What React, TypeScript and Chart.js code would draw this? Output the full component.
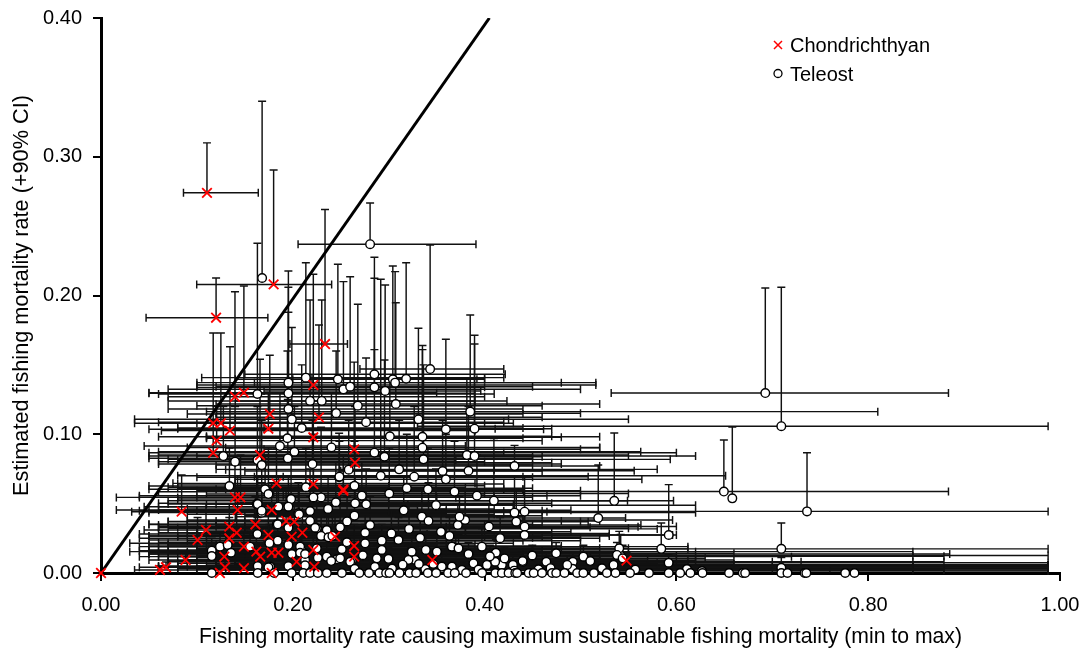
import React, { useEffect, useRef } from "react";
import { Chart, registerables } from "chart.js";

Chart.register(...registerables);

// Axis ticks
const xTicks = [0, 0.2, 0.4, 0.6, 0.8, 1.0];
const yTicks = [0, 0.1, 0.2, 0.3, 0.4];

// Reference line (F = Fmsm)
const diagonalX = [0, 0.405];
const diagonalY = [0, 0.4];

// Teleost rows: [x, y, xMin, xMax, yUpper90]
const teleostRows: number[][] = [
  [0.2806, 0.237, 0.2055, 0.391, 0.2667],
  [0.168, 0.2126, 0.168, 0.168, 0.34],
  [0.3432, 0.147, 0.27, 0.42, 0.2364],
  [0.6927, 0.1297, 0.532, 0.8837, 0.2054],
  [0.7094, 0.1058, 0.33, 0.9876, 0.206],
  [0.6495, 0.0587, 0.3, 0.8837, 0.0958],
  [0.6583, 0.0538, 0.6583, 0.6583, 0.1052],
  [0.7362, 0.0444, 0.36, 0.9876, 0.0867],
  [0.5352, 0.052, 0.3, 0.549, 0.1009],
  [0.5185, 0.0396, 0.22, 0.547, 0.0778],
  [0.592, 0.0274, 0.33, 0.6, 0.0637],
  [0.5842, 0.0174, 0.2, 0.612, 0.036],
  [0.7094, 0.0174, 0.45, 0.9876, 0.036],
  [0.7094, 0.0037, 0.4, 0.9876, 0.0112],
  [0.5419, 0.0124, 0.15, 0.8466, 0.0277],
  [0.1954, 0.1372, 0.1, 0.516, 0.2177],
  [0.2136, 0.1408, 0.105, 0.42, 0.2236],
  [0.247, 0.1396, 0.14, 0.392, 0.2225],
  [0.2528, 0.1324, 0.07, 0.5, 0.21],
  [0.2598, 0.1343, 0.12, 0.45, 0.2135],
  [0.2851, 0.1432, 0.15, 0.4215, 0.2275],
  [0.2851, 0.1338, 0.1, 0.4, 0.2124],
  [0.2963, 0.1312, 0.17, 0.396, 0.2076],
  [0.3043, 0.1396, 0.2, 0.4, 0.2213],
  [0.3067, 0.1372, 0.16, 0.48, 0.2172],
  [0.3182, 0.14, 0.22, 0.4, 0.2236],
  [0.1954, 0.1295, 0.05, 0.39, 0.206],
  [0.1631, 0.129, 0.06, 0.41, 0.2376],
  [0.218, 0.124, 0.07, 0.4233, 0.1968],
  [0.2302, 0.124, 0.14, 0.39, 0.1968],
  [0.1954, 0.1182, 0.07, 0.44, 0.188],
  [0.199, 0.1108, 0.035, 0.425, 0.177],
  [0.2678, 0.1206, 0.1, 0.46, 0.1937],
  [0.3074, 0.1218, 0.12, 0.52, 0.1948],
  [0.331, 0.1108, 0.14, 0.55, 0.1764],
  [0.385, 0.1163, 0.11, 0.81, 0.186],
  [0.3596, 0.1036, 0.05, 0.4615, 0.1684],
  [0.3895, 0.104, 0.17, 0.411, 0.1713],
  [0.3352, 0.0982, 0.06, 0.52, 0.161],
  [0.3352, 0.0903, 0.13, 0.52, 0.164],
  [0.3363, 0.0819, 0.07, 0.5936, 0.15],
  [0.1944, 0.0971, 0.11, 0.44, 0.16],
  [0.2017, 0.0874, 0.06, 0.5628, 0.12],
  [0.1948, 0.0827, 0.05, 0.45, 0.125],
  [0.2851, 0.0867, 0.2, 0.6, 0.161],
  [0.2956, 0.0838, 0.13, 0.46, 0.1535],
  [0.2917, 0.0701, 0.08, 0.6513, 0.2117],
  [0.3109, 0.0747, 0.12, 0.58, 0.11],
  [0.3266, 0.0694, 0.19, 0.508, 0.12],
  [0.3815, 0.085, 0.17, 0.55, 0.14],
  [0.3895, 0.0843, 0.1, 0.62, 0.165],
  [0.3832, 0.0737, 0.25, 0.556, 0.12],
  [0.3596, 0.0675, 0.14, 0.564, 0.1],
  [0.3686, 0.0586, 0.06, 0.4406, 0.095],
  [0.392, 0.0557, 0.19, 0.465, 0.085],
  [0.4097, 0.0521, 0.07, 0.597, 0.097],
  [0.3409, 0.0603, 0.12, 0.44, 0.09],
  [0.2483, 0.069, 0.1, 0.45, 0.1007],
  [0.2643, 0.0629, 0.14, 0.4, 0.095],
  [0.2136, 0.0618, 0.07, 0.38, 0.09],
  [0.272, 0.0557, 0.04, 0.5, 0.08],
  [0.2765, 0.0495, 0.12, 0.43, 0.075],
  [0.265, 0.0502, 0.06, 0.47, 0.07],
  [0.2449, 0.051, 0.14, 0.35, 0.08],
  [0.2295, 0.0545, 0.1, 0.37, 0.105],
  [0.1982, 0.0533, 0.08, 0.3, 0.09],
  [0.1954, 0.0478, 0.045, 0.33, 0.07],
  [0.2058, 0.043, 0.16, 0.36, 0.065],
  [0.218, 0.0447, 0.05, 0.42, 0.075],
  [0.2643, 0.0413, 0.15, 0.46, 0.065],
  [0.1676, 0.0435, 0.05, 0.38, 0.075],
  [0.1624, 0.0497, 0.11, 0.3, 0.08],
  [0.1833, 0.0351, 0.09, 0.45, 0.06],
  [0.225, 0.0322, 0.07, 0.55, 0.055],
  [0.2354, 0.031, 0.13, 0.4, 0.05],
  [0.2493, 0.0329, 0.15, 0.51, 0.06],
  [0.2754, 0.029, 0.1, 0.38, 0.045],
  [0.2806, 0.0346, 0.06, 0.563, 0.055],
  [0.3346, 0.0406, 0.14, 0.44, 0.06],
  [0.3415, 0.0375, 0.19, 0.52, 0.065],
  [0.3721, 0.0346, 0.12, 0.46, 0.05],
  [0.3797, 0.0382, 0.09, 0.596, 0.06],
  [0.3738, 0.0406, 0.22, 0.43, 0.055],
  [0.3634, 0.0267, 0.05, 0.53, 0.04],
  [0.3328, 0.0254, 0.13, 0.45, 0.04],
  [0.2928, 0.0233, 0.11, 0.5, 0.035],
  [0.3102, 0.0238, 0.17, 0.47, 0.04],
  [0.3659, 0.019, 0.07, 0.612, 0.03],
  [0.3728, 0.0178, 0.15, 0.52, 0.028],
  [0.3972, 0.019, 0.2, 0.47, 0.032],
  [0.3241, 0.0154, 0.09, 0.62, 0.025],
  [0.3387, 0.0166, 0.1, 0.54, 0.03],
  [0.3502, 0.0154, 0.19, 0.8466, 0.028],
  [0.3832, 0.0137, 0.12, 0.885, 0.022],
  [0.4118, 0.0146, 0.21, 0.55, 0.024],
  [0.4024, 0.0058, 0.16, 0.9876, 0.015],
  [0.418, 0.0058, 0.11, 0.7, 0.012],
  [0.3884, 0.007, 0.08, 0.58, 0.013],
  [0.3763, 0.0022, 0.13, 0.879, 0.008],
  [0.3659, 0.0046, 0.06, 0.9876, 0.01],
  [0.3554, 0.0046, 0.14, 0.8466, 0.012],
  [0.3276, 0.0094, 0.09, 0.5, 0.018],
  [0.3206, 0.0094, 0.12, 0.66, 0.02],
  [0.2928, 0.0166, 0.05, 0.46, 0.03],
  [0.2876, 0.0106, 0.13, 0.52, 0.02],
  [0.2754, 0.0214, 0.07, 0.43, 0.035],
  [0.2511, 0.0171, 0.11, 0.5, 0.03],
  [0.2354, 0.0118, 0.06, 0.38, 0.025],
  [0.2459, 0.0099, 0.14, 0.55, 0.02],
  [0.2615, 0.0086, 0.08, 0.44, 0.018],
  [0.225, 0.0178, 0.1, 0.48, 0.03],
  [0.2094, 0.0161, 0.06, 0.42, 0.03],
  [0.1954, 0.0209, 0.12, 0.36, 0.035],
  [0.199, 0.0137, 0.05, 0.4, 0.025],
  [0.2128, 0.0094, 0.09, 0.52, 0.02],
  [0.1763, 0.0046, 0.07, 0.34, 0.012],
  [0.1954, 0.005, 0.1, 0.45, 0.012],
  [0.2128, 0.0055, 0.12, 0.38, 0.01],
  [0.1276, 0.0843, 0.05, 0.38, 0.12],
  [0.1398, 0.0802, 0.06, 0.4, 0.12],
  [0.1631, 0.0814, 0.08, 0.37, 0.12],
  [0.1676, 0.0778, 0.12, 0.45, 0.11],
  [0.1339, 0.0627, 0.05, 0.3, 0.09],
  [0.1711, 0.0603, 0.05, 0.42, 0.085],
  [0.1746, 0.0569, 0.11, 0.4, 0.09],
  [0.2486, 0.0694, 0.16, 0.44, 0.095],
  [0.1634, 0.0497, 0.07, 0.32, 0.07],
  [0.1676, 0.0449, 0.04, 0.46, 0.065],
  [0.185, 0.0478, 0.06, 0.35, 0.07],
  [0.2066, 0.0423, 0.09, 0.41, 0.06],
  [0.1843, 0.0351, 0.05, 0.43, 0.05],
  [0.1954, 0.0326, 0.08, 0.36, 0.05],
  [0.218, 0.0375, 0.12, 0.48, 0.055],
  [0.2233, 0.0326, 0.06, 0.4, 0.045],
  [0.1631, 0.0281, 0.04, 0.34, 0.04],
  [0.1843, 0.0233, 0.09, 0.44, 0.035],
  [0.1954, 0.0202, 0.07, 0.39, 0.03],
  [0.2076, 0.019, 0.11, 0.47, 0.028],
  [0.2295, 0.0267, 0.05, 0.36, 0.04],
  [0.2372, 0.0257, 0.13, 0.5, 0.04],
  [0.2413, 0.0267, 0.08, 0.42, 0.045],
  [0.1155, 0.0161, 0.04, 0.28, 0.025],
  [0.1241, 0.019, 0.06, 0.32, 0.03],
  [0.1321, 0.0202, 0.05, 0.35, 0.03],
  [0.1356, 0.0146, 0.07, 0.3, 0.022],
  [0.1554, 0.019, 0.04, 0.33, 0.03],
  [0.1155, 0.0122, 0.06, 0.26, 0.02],
  [0.2076, 0.0146, 0.08, 0.38, 0.022],
  [0.2128, 0.0137, 0.05, 0.44, 0.02],
  [0.2261, 0.011, 0.1, 0.35, 0.018],
  [0.24, 0.0086, 0.07, 0.4, 0.015],
  [0.2494, 0.0106, 0.12, 0.46, 0.018],
  [0.2598, 0.0081, 0.09, 0.37, 0.014],
  [0.1634, 0.005, 0.06, 0.3, 0.01],
  [0.1746, 0.0041, 0.08, 0.34, 0.01],
  [0.4312, 0.0771, 0.26, 0.52, 0.092],
  [0.4312, 0.0435, 0.17, 0.62, 0.07],
  [0.4417, 0.0442, 0.21, 0.465, 0.07],
  [0.433, 0.037, 0.15, 0.508, 0.06],
  [0.4417, 0.0334, 0.12, 0.56, 0.05],
  [0.4417, 0.0274, 0.18, 0.596, 0.045],
  [0.411, 0.0081, 0.15, 0.73, 0.015],
  [0.4295, 0.0058, 0.22, 0.9876, 0.012],
  [0.44, 0.0081, 0.14, 0.8466, 0.015],
  [0.4643, 0.0081, 0.19, 0.879, 0.014],
  [0.457, 0.0022, 0.25, 0.9876, 0.006],
  [0.492, 0.0081, 0.3, 0.7, 0.014],
  [0.5345, 0.0058, 0.26, 0.8466, 0.012],
  [0.5404, 0.0178, 0.33, 0.55, 0.03],
  [0.538, 0.013, 0.35, 0.6, 0.022],
  [0.5439, 0.0106, 0.25, 0.63, 0.02],
  [0.503, 0.0118, 0.2, 0.72, 0.02],
  [0.5102, 0.0086, 0.28, 0.612, 0.015],
  [0.5224, 0.0034, 0.3, 0.9876, 0.008],
  [0.4396, 0.0086, 0.18, 0.6, 0.015],
  [0.5919, 0.0074, 0.4, 0.9876, 0.013],
  [0.611, 0.0029, 0.45, 0.8466, 0.006],
  [0.6267, 0.0014, 0.5, 0.9876, 0.005],
  [0.4562, 0.0027, 0.26, 0.7, 0.008],
  [0.4309, 0.0017, 0.2, 0.55, 0.006],
  [0.4917, 0.003, 0.31, 0.76, 0.008],
  [0.2645, 0.003, 0.1, 0.62, 0.008],
  [0.2856, 0.0045, 0.12, 0.9876, 0.01],
  [0.3035, 0.0032, 0.08, 0.72, 0.009],
  [0.3146, 0.006, 0.14, 0.8466, 0.012],
  [0.3381, 0.0028, 0.1, 0.9876, 0.007],
  [0.3465, 0.0065, 0.16, 0.612, 0.012],
  [0.3937, 0.0025, 0.13, 0.8466, 0.007],
  [0.4055, 0.012, 0.22, 0.879, 0.02],
  [0.4208, 0.0105, 0.2, 0.62, 0.018],
  [0.4497, 0.0126, 0.24, 0.9876, 0.02],
  [0.4746, 0.0142, 0.3, 0.66, 0.022],
  [0.4861, 0.0058, 0.33, 0.9876, 0.012],
  [0.3028, 0.0285, 0.09, 0.53, 0.045],
  [0.3212, 0.0318, 0.15, 0.58, 0.05],
  [0.3545, 0.0297, 0.11, 0.49, 0.046],
  [0.4045, 0.0335, 0.2, 0.6, 0.05],
  [0.4162, 0.0251, 0.18, 0.52, 0.04],
  [0.3157, 0.0452, 0.1, 0.49, 0.07],
  [0.3493, 0.0489, 0.16, 0.62, 0.075],
  [0.3006, 0.0573, 0.18, 0.55, 0.09],
  [0.3189, 0.0611, 0.08, 0.45, 0.1],
  [0.2368, 0.0462, 0.09, 0.41, 0.07],
  [0.2564, 0.0221, 0.06, 0.37, 0.035],
  [0.2731, 0.0128, 0.1, 0.44, 0.022],
  [0.2998, 0.0102, 0.15, 0.57, 0.018],
  [0.3315, 0.0065, 0.12, 0.66, 0.012],
  [0.4688, 0.0035, 0.25, 0.9876, 0.008],
  [0.5571, 0.0025, 0.35, 0.879, 0.006],
  [0.2205, 0.0785, 0.06, 0.48, 0.11],
  [0.2403, 0.0905, 0.09, 0.52, 0.13],
  [0.2583, 0.0745, 0.13, 0.41, 0.11],
  [0.1866, 0.0915, 0.045, 0.38, 0.13],
  [0.2093, 0.1045, 0.08, 0.44, 0.15],
  [0.2452, 0.1152, 0.12, 0.5, 0.16],
  [0.3562, 0.0735, 0.15, 0.46, 0.11],
  [0.3012, 0.0985, 0.11, 0.47, 0.14],
  [0.2764, 0.1087, 0.06, 0.42, 0.155],
  [0.2215, 0.0545, 0.04, 0.35, 0.08],
  [0.1756, 0.0215, 0.03, 0.27, 0.035],
  [0.2566, 0.0372, 0.07, 0.5, 0.055],
];

// Teleost stocks sitting at zero estimated F (no visible bars)
const teleostZeroX = [
  0.1155, 0.1634, 0.1806, 0.1988, 0.2109, 0.218, 0.2261, 0.2355, 0.2512, 0.2694,
  0.2795, 0.2903, 0.2973, 0.3008, 0.3113, 0.3217, 0.3286, 0.3408, 0.3495, 0.3619,
  0.3689, 0.3807, 0.3974, 0.4112, 0.418, 0.425, 0.432, 0.4339, 0.446, 0.4512,
  0.4599, 0.4704, 0.4747, 0.4833, 0.4965, 0.503, 0.514, 0.5275, 0.5365, 0.5516,
  0.5714, 0.592, 0.6039, 0.6146, 0.6272, 0.6549, 0.6692, 0.6717, 0.7094, 0.7158,
  0.7337, 0.7355, 0.776, 0.7857,
];

// Chondrichthyan rows: [x, y, xMin, xMax, yUpper90]
const chondRows: number[][] = [
  [0.1105, 0.274, 0.086, 0.164, 0.31],
  [0.18, 0.208, 0.0998, 0.2405, 0.2905],
  [0.12, 0.184, 0.047, 0.174, 0.2126],
  [0.2336, 0.165, 0.197, 0.257, 0.262],
  [0.1397, 0.127, 0.07, 0.4, 0.2027],
  [0.149, 0.13, 0.05, 0.35, 0.2068],
  [0.117, 0.108, 0.035, 0.4, 0.173],
  [0.125, 0.108, 0.1, 0.43, 0.173],
  [0.1345, 0.1026, 0.063, 0.39, 0.163],
  [0.1206, 0.0954, 0.12, 0.46, 0.12],
  [0.117, 0.0867, 0.05, 0.42, 0.11],
  [0.176, 0.1146, 0.09, 0.44, 0.157],
  [0.1745, 0.104, 0.08, 0.47, 0.13],
  [0.2214, 0.1355, 0.1, 0.516, 0.2153],
  [0.2273, 0.1122, 0.12, 0.46, 0.1787],
  [0.2214, 0.0978, 0.11, 0.48, 0.14],
  [0.1658, 0.085, 0.06, 0.45, 0.154],
  [0.183, 0.0646, 0.075, 0.39, 0.09],
  [0.2214, 0.0641, 0.08, 0.42, 0.1],
  [0.2527, 0.0603, 0.13, 0.44, 0.08],
  [0.2527, 0.0593, 0.1, 0.5, 0.085],
  [0.1397, 0.0545, 0.016, 0.41, 0.08],
  [0.1455, 0.0545, 0.08, 0.45, 0.085],
  [0.1424, 0.0454, 0.016, 0.36, 0.07],
  [0.0841, 0.0442, 0.032, 0.3, 0.0706],
  [0.178, 0.0454, 0.06, 0.43, 0.065],
  [0.161, 0.035, 0.05, 0.4, 0.055],
  [0.193, 0.0375, 0.09, 0.37, 0.06],
  [0.2016, 0.037, 0.07, 0.44, 0.055],
  [0.1095, 0.031, 0.045, 0.3, 0.05],
  [0.1007, 0.0238, 0.05, 0.33, 0.04],
  [0.1338, 0.0334, 0.06, 0.36, 0.05],
  [0.1415, 0.029, 0.09, 0.38, 0.045],
  [0.1338, 0.025, 0.04, 0.41, 0.04],
  [0.1745, 0.0274, 0.1, 0.35, 0.045],
  [0.1988, 0.0262, 0.08, 0.4, 0.04],
  [0.21, 0.029, 0.06, 0.47, 0.045],
  [0.149, 0.019, 0.05, 0.32, 0.03],
  [0.162, 0.0154, 0.03, 0.34, 0.028],
  [0.166, 0.0118, 0.07, 0.3, 0.02],
  [0.178, 0.0146, 0.05, 0.38, 0.025],
  [0.185, 0.0146, 0.09, 0.36, 0.025],
  [0.1286, 0.0118, 0.04, 0.33, 0.02],
  [0.0882, 0.0094, 0.05, 0.25, 0.015],
  [0.0615, 0.0022, 0.035, 0.2, 0.005],
  [0.0678, 0.0041, 0.04, 0.22, 0.008],
  [0.1293, 0.0041, 0.06, 0.3, 0.01],
  [0.149, 0.0034, 0.08, 0.36, 0.008],
  [0.204, 0.0081, 0.07, 0.4, 0.015],
  [0.2214, 0.0166, 0.1, 0.45, 0.03],
  [0.2224, 0.0045, 0.09, 0.42, 0.01],
  [0.244, 0.0262, 0.11, 0.46, 0.04],
  [0.264, 0.0891, 0.17, 0.5, 0.152],
  [0.2649, 0.0795, 0.14, 0.47, 0.12],
  [0.264, 0.0195, 0.13, 0.48, 0.035],
  [0.264, 0.0118, 0.09, 0.55, 0.02],
  [0.3455, 0.0094, 0.2, 0.52, 0.015],
  [0.548, 0.0089, 0.35, 0.62, 0.015],
];

const chondZeroX = [0, 0.124, 0.178];

const FONT = "'Liberation Sans', Arial, Helvetica, sans-serif";

const errorBarPlugin = {
  id: "errorBars",
  beforeDatasetsDraw(chart: any) {
    const { ctx } = chart;
    const xs = chart.scales.x;
    const ys = chart.scales.y;
    ctx.save();
    ctx.strokeStyle = "#111";
    ctx.lineWidth = 1.45;
    const cap = 4;
    const drawRows = (rows: number[][]) => {
      rows.forEach(([px, py, mn, mx, up]) => {
        const cx = xs.getPixelForValue(px);
        const cy = ys.getPixelForValue(py);
        ctx.beginPath();
        if (mx > mn) {
          const a = xs.getPixelForValue(mn);
          const b = xs.getPixelForValue(mx);
          ctx.moveTo(a, cy);
          ctx.lineTo(b, cy);
          ctx.moveTo(a, cy - cap);
          ctx.lineTo(a, cy + cap);
          ctx.moveTo(b, cy - cap);
          ctx.lineTo(b, cy + cap);
        }
        if (up > py) {
          const t = ys.getPixelForValue(up);
          ctx.moveTo(cx, cy);
          ctx.lineTo(cx, t);
          ctx.moveTo(cx - cap, t);
          ctx.lineTo(cx + cap, t);
        }
        ctx.stroke();
      });
    };
    drawRows(teleostRows);
    drawRows(chondRows);
    ctx.restore();
  },
};

const legendPlugin = {
  id: "cornerLegend",
  afterDraw(chart: any) {
    const { ctx } = chart;
    ctx.save();
    // Chondrichthyan
    ctx.strokeStyle = "#ff0000";
    ctx.lineWidth = 1.5;
    ctx.beginPath();
    ctx.moveTo(774, 41);
    ctx.lineTo(782, 49);
    ctx.moveTo(782, 41);
    ctx.lineTo(774, 49);
    ctx.stroke();
    // Teleost
    ctx.strokeStyle = "#000";
    ctx.fillStyle = "#fff";
    ctx.lineWidth = 1.3;
    ctx.beginPath();
    ctx.arc(778, 73.5, 4, 0, Math.PI * 2);
    ctx.fill();
    ctx.stroke();
    ctx.fillStyle = "#000";
    ctx.font = `20px ${FONT}`;
    ctx.textBaseline = "alphabetic";
    ctx.textAlign = "left";
    ctx.fillText("Chondrichthyan", 790, 52);
    ctx.fillText("Teleost", 790, 81);
    ctx.restore();
  },
};

export default function App() {
  const canvasRef = useRef<HTMLCanvasElement>(null);

  useEffect(() => {
    document.body.style.margin = "0";
    document.body.style.background = "#fff";
    const canvas = canvasRef.current;
    if (!canvas) return;

    const chondData = chondRows
      .map((r) => ({ x: r[0], y: r[1] }))
      .concat(chondZeroX.map((x) => ({ x, y: 0 })));
    const teleData = teleostRows
      .map((r) => ({ x: r[0], y: r[1] }))
      .concat(teleostZeroX.map((x) => ({ x, y: 0 })));
    const diagData = diagonalX.map((x, i) => ({ x, y: diagonalY[i] }));

    const chart = new Chart(canvas, {
      type: "scatter",
      data: {
        datasets: [
          {
            label: "Chondrichthyan",
            data: chondData,
            pointStyle: "crossRot",
            pointRadius: 6.8,
            pointHoverRadius: 6.8,
            borderColor: "#ff0000",
            backgroundColor: "#ff0000",
            borderWidth: 1.8,
            clip: false,
            order: 0,
          } as any,
          {
            label: "Teleost",
            data: teleData,
            pointStyle: "circle",
            pointRadius: 4.3,
            pointHoverRadius: 4.3,
            backgroundColor: "#ffffff",
            borderColor: "#000000",
            borderWidth: 1.4,
            clip: false,
            order: 1,
          } as any,
          {
            label: "1:1",
            data: diagData,
            showLine: true,
            pointRadius: 0,
            borderColor: "#000000",
            borderWidth: 3,
            order: 2,
          } as any,
        ],
      },
      options: {
        responsive: false,
        animation: false,
        events: [],
        layout: { padding: { top: 18, right: 27, left: 0, bottom: 0 } },
        plugins: {
          legend: { display: false },
          tooltip: { enabled: false },
        },
        scales: {
          x: {
            type: "linear",
            min: 0,
            max: 1,
            afterFit: (s: any) => {
              s.height = 82;
              s.paddingLeft = 0;
              s.paddingRight = 0;
            },
            afterBuildTicks: (s: any) => {
              s.ticks = xTicks.map((v) => ({ value: v }));
            },
            border: { display: true, color: "#000", width: 3 },
            grid: {
              drawOnChartArea: false,
              drawTicks: true,
              tickLength: 8,
              color: "#000",
              lineWidth: 2,
            },
            ticks: {
              color: "#000",
              padding: 12,
              font: { family: FONT, size: 20 },
              maxRotation: 0,
              callback: (v: any) => Number(v).toFixed(2),
            },
            title: {
              display: true,
              text: "Fishing mortality rate causing maximum sustainable fishing mortality (min to max)",
              color: "#000",
              font: { family: FONT, size: 21.2 },
              padding: { top: 0, bottom: 5 },
            },
          },
          y: {
            type: "linear",
            min: 0,
            max: 0.4,
            afterFit: (s: any) => {
              s.width = 101;
              s.paddingTop = 0;
              s.paddingBottom = 0;
            },
            afterBuildTicks: (s: any) => {
              s.ticks = yTicks.map((v) => ({ value: v }));
            },
            border: { display: true, color: "#000", width: 3 },
            grid: {
              drawOnChartArea: false,
              drawTicks: true,
              tickLength: 8,
              color: "#000",
              lineWidth: 2,
            },
            ticks: {
              color: "#000",
              padding: 11,
              font: { family: FONT, size: 20 },
              callback: (v: any) => Number(v).toFixed(2),
            },
            title: {
              display: true,
              text: "Estimated fishing mortality rate (+90% CI)",
              color: "#000",
              font: { family: FONT, size: 21.7 },
              padding: { top: 9, bottom: 0 },
            },
          },
        },
      },
      plugins: [errorBarPlugin, legendPlugin],
    });

    return () => {
      chart.destroy();
    };
  }, []);

  return (
    <div style={{ width: 1087, height: 655, background: "#fff" }}>
      <canvas ref={canvasRef} width={1087} height={655} />
    </div>
  );
}
